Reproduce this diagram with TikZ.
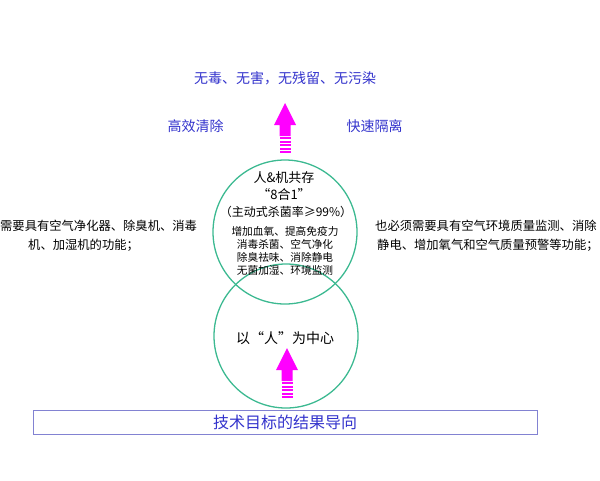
\documentclass[tikz,border=0pt]{standalone}
\usepackage{fontspec}
\setmainfont{Noto Sans CJK SC}

\definecolor{bleuTexte}{RGB}{51,51,204}
\definecolor{vertCercle}{RGB}{60,185,145}
\definecolor{bleuCadre}{RGB}{130,130,210}
\definecolor{rose}{RGB}{255,0,255}

\tikzset{
  bleu/.style={text=bleuTexte, font=\fontsize{14}{16}\selectfont, inner sep=0pt},
  noir/.style={text=black, font=\fontsize{12.3}{14}\selectfont, inner sep=0pt},
  cercle/.style={draw=vertCercle, line width=1.3pt, circle, minimum size=144pt, inner sep=0pt},
  fleche/.pic={
    \fill[rose] (0,0) -- (11,22) -- (5.5,22) -- (5.5,33) -- (-5.5,33) -- (-5.5,22) -- (-11,22) -- cycle;
    %bandes sous la flèche
    \foreach \y in {34,37.5,...,49}
      \fill[rose] (-5.5,\y) rectangle (5.5,\y+2);
  }
}

\begin{document}
\begin{tikzpicture}[x=1pt,y=-1pt]
\useasboundingbox (0,0) rectangle (600,480);

%les deux cercles
\node[cercle] (cercleHaut) at (285,232) {};
\node[cercle] (cercleBas) at (286,336) {};

%textes du haut
\node[bleu] (titre) at (285,78) {无毒、无害，无残留、无污染};
\node[bleu] (efficace) at (195.5,126) {高效清除};
\node[bleu] (isolation) at (374.5,126) {快速隔离};

%textes des côtés
\node[noir, anchor=west] (gauche1) at (0,226) {需要具有空气净化器、除臭机、消毒};
\node[noir, anchor=west] (gauche2) at (28,245) {机、加湿机的功能；};
\node[noir, anchor=west] (droite1) at (375,226) {也必须需要具有空气环境质量监测、消除};
\node[noir, anchor=west] (droite2) at (377,245) {静电、增加氧气和空气质量预警等功能；};

%dans le cercle du haut
\node[noir, font=\fontsize{13}{15}\selectfont] (coexiste) at (284,178) {人\&机共存};
\node[noir, font=\fontsize{13}{15}\selectfont] (huitEnUn) at (284,194) {“8合1”};
\node[noir, font=\fontsize{12}{14}\selectfont] (taux) at (286,212) {（主动式杀菌率≥99\%）};
\node[noir, align=center, font=\fontsize{10.7}{13}\selectfont] (fonctions) at (285,250.5)
  {增加血氧、提高免疫力\\消毒杀菌、空气净化\\除臭祛味、消除静电\\无菌加湿、环境监测};

%dans le cercle du bas
\node[noir, font=\fontsize{14}{16}\selectfont] (centre) at (285,338) {以“人”为中心};

%flèches
\pic at (285,103) {fleche};
\pic at (287,348) {fleche};

%cadre du bas
\node[draw=bleuCadre, line width=0.8pt, minimum width=504pt, minimum height=24pt,
  text=bleuTexte, font=\fontsize{16}{18}\selectfont] (cadre) at (285,422) {技术目标的结果导向};

\end{tikzpicture}
\end{document}
